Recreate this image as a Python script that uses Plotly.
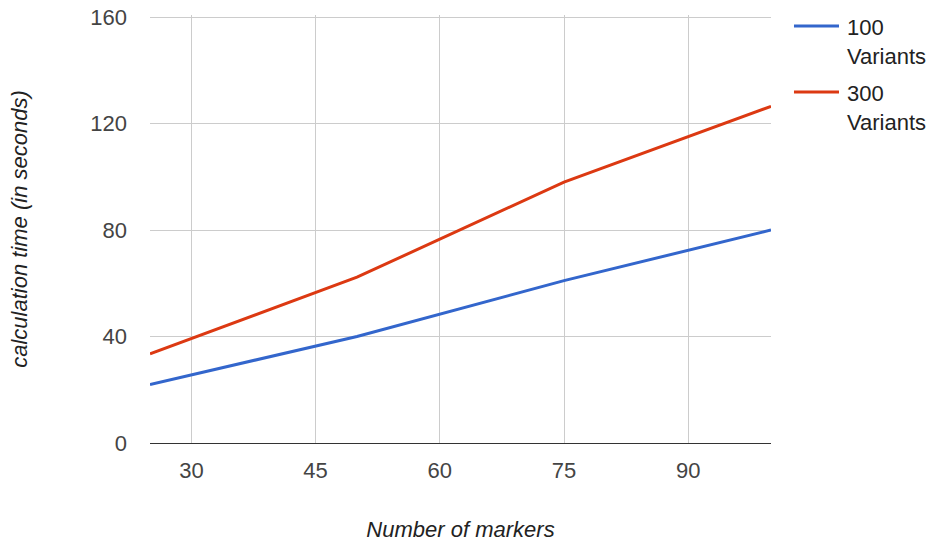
import plotly.graph_objects as go

markers = [25, 50, 75, 100]
time_100_variants = [22, 40, 61, 80]
time_300_variants = [33.5, 62.3, 98, 126.5]

series_names = ["100<br>Variants", "300<br>Variants"]
series_colors = ["#3366CC", "#DC3912"]

font_family = "Liberation Sans, Arial, sans-serif"
font_size = 22

fig = go.Figure()

for name, values, color in zip(
    series_names, [time_100_variants, time_300_variants], series_colors
):
    fig.add_trace(
        go.Scatter(
            x=markers,
            y=values,
            mode="lines",
            name=name,
            line={"color": color, "width": 3},
        )
    )

# legend drawn by hand so the long line keys and wrapped labels fit the frame
legend_line_y = [0.9743, 0.8201]
legend_text_y = [1.0054, 0.851]
for name, color, line_y, text_y in zip(
    series_names, series_colors, legend_line_y, legend_text_y
):
    fig.add_shape(
        type="line",
        xref="paper",
        yref="paper",
        x0=1.037,
        x1=1.1095,
        y0=line_y,
        y1=line_y,
        line={"color": color, "width": 3},
    )
    fig.add_annotation(
        xref="paper",
        yref="paper",
        x=1.119,
        y=text_y,
        xanchor="left",
        yanchor="top",
        align="left",
        text=name,
        showarrow=False,
        font={"size": font_size, "color": "#222222"},
    )

fig.update_layout(
    width=930,
    height=542,
    paper_bgcolor="white",
    plot_bgcolor="white",
    margin={"l": 150, "r": 159, "t": 15, "b": 99, "autoexpand": False},
    font={"family": font_family, "size": font_size, "color": "#222222"},
    showlegend=False,
    xaxis={
        "range": [25, 100],
        "tickvals": [30, 45, 60, 75, 90],
        "automargin": False,
        "showgrid": True,
        "gridcolor": "#CCCCCC",
        "gridwidth": 1,
        "zeroline": False,
        "showline": False,
        "ticks": "",
        "tickfont": {"size": font_size, "color": "#444444"},
        "ticklabelstandoff": 12,
        "title": {
            "text": "<i>Number of markers</i>",
            "font": {"size": font_size, "color": "#222222"},
            "standoff": 40,
        },
    },
    yaxis={
        # a little headroom above 160 so plotly keeps the top gridline
        "range": [0, 160.8],
        "tickvals": [0, 40, 80, 120, 160],
        "automargin": False,
        "showgrid": True,
        "gridcolor": "#CCCCCC",
        "gridwidth": 1,
        "zeroline": True,
        "zerolinecolor": "#333333",
        "zerolinewidth": 1,
        "showline": False,
        "ticks": "",
        "tickfont": {"size": font_size, "color": "#444444"},
        "ticklabelstandoff": 22,
        "title": {
            "text": "<i>calculation time (in seconds)</i>",
            "font": {"size": font_size, "color": "#222222"},
            "standoff": 56,
        },
    },
)

# drop the default 8px page margin so the figure sits at the window's corner
fig.write_html(
    "out.html",
    config={"displayModeBar": False},
    post_script="document.body.style.margin = '0';",
)
